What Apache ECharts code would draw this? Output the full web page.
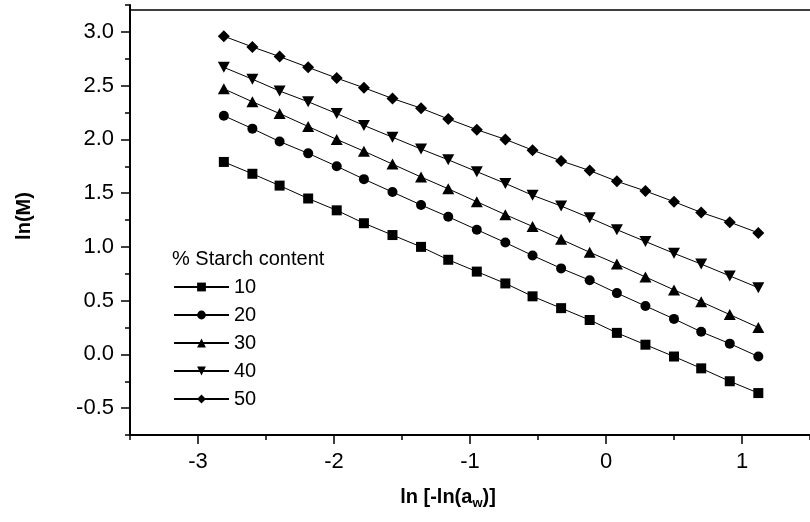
<!DOCTYPE html>
<html>
<head>
<meta charset="utf-8">
<script src="https://cdn.jsdelivr.net/npm/echarts@6/dist/echarts.min.js"></script>
<style>
  html, body { margin: 0; padding: 0; background: #fff; }
  #chart { width: 810px; height: 522px; }
</style>
</head>
<body>
<div id="chart"></div>
<script>
// ln[-ln(aw)] values shared by every starch level
const lnAw = [-2.81, -2.60, -2.40, -2.19, -1.98, -1.78, -1.57, -1.36, -1.16, -0.95,
              -0.74, -0.54, -0.33, -0.12, 0.08, 0.29, 0.50, 0.70, 0.91, 1.12];

// ln(M) for each % starch content
const lnM10 = [1.79, 1.68, 1.57, 1.45, 1.34, 1.22, 1.11, 1.00, 0.88, 0.77,
               0.66, 0.54, 0.43, 0.32, 0.20, 0.09, -0.02, -0.13, -0.25, -0.36];
const lnM20 = [2.22, 2.10, 1.98, 1.87, 1.75, 1.63, 1.51, 1.39, 1.28, 1.16,
               1.04, 0.92, 0.80, 0.69, 0.57, 0.45, 0.33, 0.21, 0.10, -0.02];
const lnM30 = [2.47, 2.35, 2.24, 2.12, 2.00, 1.89, 1.77, 1.65, 1.54, 1.42,
               1.30, 1.19, 1.07, 0.95, 0.84, 0.72, 0.60, 0.49, 0.37, 0.25];
const lnM40 = [2.67, 2.56, 2.45, 2.35, 2.24, 2.13, 2.02, 1.91, 1.81, 1.70,
               1.59, 1.48, 1.38, 1.27, 1.16, 1.05, 0.94, 0.84, 0.73, 0.62];
const lnM50 = [2.96, 2.86, 2.77, 2.67, 2.57, 2.48, 2.38, 2.29, 2.19, 2.09,
               2.00, 1.90, 1.80, 1.71, 1.61, 1.52, 1.42, 1.32, 1.23, 1.13];

const seriesNames = ['10', '20', '30', '40', '50'];
const xTickLabels = [-3, -2, -1, 0, 1];
const yTickLabels = [-0.5, 0.0, 0.5, 1.0, 1.5, 2.0, 2.5, 3.0];

const FONT = '"Liberation Sans", Arial, sans-serif';

const pairs = ys => lnAw.map((x, i) => [x, ys[i]]);

const markerStyles = [
  { symbol: 'rect', symbolSize: 10 },
  { symbol: 'circle', symbolSize: 10 },
  { symbol: 'triangle', symbolSize: [12, 11] },
  { symbol: 'triangle', symbolSize: [12, 11], symbolRotate: 180 },
  { symbol: 'diamond', symbolSize: [12, 12] }
];

const allValues = [lnM10, lnM20, lnM30, lnM40, lnM50];

const series = allValues.map((ys, k) => Object.assign({
  name: seriesNames[k],
  type: 'line',
  data: pairs(ys),
  showAllSymbol: true,
  lineStyle: { color: '#000', width: 1 },
  itemStyle: { color: '#000' },
  emphasis: { disabled: true },
  animation: false,
  z: 3
}, markerStyles[k]));

// frame line along the top of the plot area
series[0].markLine = {
  silent: true,
  symbol: 'none',
  animation: false,
  label: { show: false },
  lineStyle: { color: '#000', width: 1.5, type: 'solid' },
  data: [{ yAxis: 3.21 }]
};

const axisLineStyle = { show: true, onZero: false, lineStyle: { color: '#000', width: 2 } };
const hiddenLine = { show: false, onZero: false };

const option = {
  backgroundColor: '#fff',
  animation: false,
  grid: { left: 130, right: -3.5, top: 5, bottom: 87, containLabel: false },
  title: {
    text: '% Starch content',
    left: 172,
    top: 249,
    padding: 0,
    textStyle: { fontFamily: FONT, fontSize: 20, fontWeight: 'normal', color: '#000' }
  },
  legend: {
    orient: 'vertical',
    left: 173,
    top: 277,
    padding: 0,
    itemWidth: 55,
    itemHeight: 11,
    itemGap: 8,
    data: seriesNames,
    textStyle: { fontFamily: FONT, fontSize: 20, color: '#000', lineHeight: 20 },
    selectedMode: false
  },
  xAxis: [{
    type: 'value',
    min: -3.5,
    max: 1.5,
    position: 'bottom',
    name: '{a|ln [-ln(a}{s|w}{a|)]}',
    nameLocation: 'middle',
    nameGap: 49,
    nameTextStyle: {
      padding: [0, 44, 0, 0],
      rich: {
        a: { fontFamily: FONT, fontSize: 20, fontWeight: 'bold', color: '#000', lineHeight: 26, verticalAlign: 'middle' },
        s: { fontFamily: FONT, fontSize: 13, fontWeight: 'bold', color: '#000', lineHeight: 26, verticalAlign: 'bottom' }
      }
    },
    splitLine: { show: false },
    axisLine: axisLineStyle,
    axisTick: { show: true, inside: false, length: 9, customValues: xTickLabels, lineStyle: { color: '#000', width: 1.5 } },
    axisLabel: { customValues: xTickLabels, margin: 16, fontFamily: FONT, fontSize: 22, color: '#000', formatter: v => String(v) }
  }, {
    type: 'value',
    min: -3.5,
    max: 1.5,
    interval: 0.5,
    position: 'bottom',
    splitLine: { show: false },
    axisLine: hiddenLine,
    axisTick: { show: true, inside: false, length: 5, lineStyle: { color: '#000', width: 1.5 } },
    axisLabel: { show: false }
  }],
  yAxis: [{
    type: 'value',
    min: -0.75,
    max: 3.25,
    position: 'left',
    name: 'ln(M)',
    nameLocation: 'middle',
    nameGap: 96,
    nameTextStyle: { fontFamily: FONT, fontSize: 20, fontWeight: 'bold', color: '#000', padding: [0, 0, 0, 8] },
    splitLine: { show: false },
    axisLine: axisLineStyle,
    axisTick: { show: true, inside: false, length: 9, customValues: yTickLabels, lineStyle: { color: '#000', width: 1.5 } },
    axisLabel: { customValues: yTickLabels, margin: 16, fontFamily: FONT, fontSize: 22, color: '#000', formatter: v => v.toFixed(1) }
  }, {
    type: 'value',
    min: -0.75,
    max: 3.25,
    interval: 0.25,
    position: 'left',
    splitLine: { show: false },
    axisLine: hiddenLine,
    axisTick: { show: true, inside: false, length: 5, lineStyle: { color: '#000', width: 1.5 } },
    axisLabel: { show: false }
  }],
  series: series
};

const chart = echarts.init(document.getElementById('chart'), null, { renderer: 'canvas' });
chart.setOption(option);
</script>
</body>
</html>
